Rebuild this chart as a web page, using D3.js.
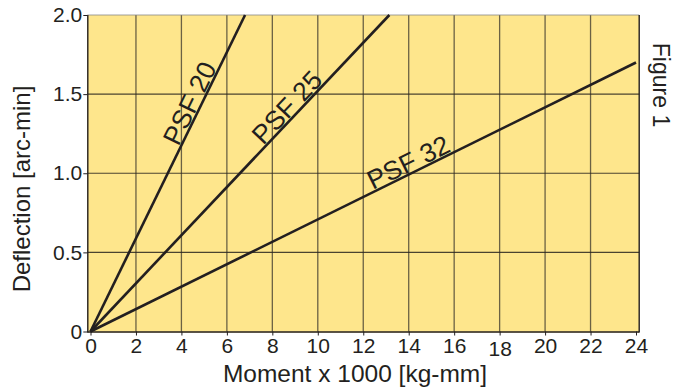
<!DOCTYPE html>
<html>
<head>
<meta charset="utf-8">
<script src="https://cdn.jsdelivr.net/npm/d3@7"></script>
<style>
  body { margin: 0; background: #fff; }
  text { font-family: "Liberation Sans", Arial, Helvetica, sans-serif; fill: #231f20; }
</style>
</head>
<body>
<svg id="drawing_region"></svg>
<script>
// chart values
const seriesNames = ["PSF 20", "PSF 25", "PSF 32"];
const seriesEnds = [[6.8, 2.0], [13.15, 2.0], [24, 1.70]];   // lines start at origin
const labelAtX = [4.8, 9.0, 14.2];                            // where label sits along line
const xTicks = [0, 2, 4, 6, 8, 10, 12, 14, 16, 18, 20, 22, 24];
const yTicks = [0, 0.5, 1.0, 1.5, 2.0];
const yTickLabels = ["0", "0.5", "1.0", "1.5", "2.0"];

const config = {
    width: 673,
    height: 387,
    margin: {top: 15, right: 37, bottom: 55, left: 90.5}
};

const svg = d3.select('#drawing_region')
    .attr('width', config.width)
    .attr('height', config.height);

const inner_width = 636 - config.margin.left;
const inner_height = 331.5 - config.margin.top;

const chart = svg.append('g')
    .attr('transform', `translate(${config.margin.left}, ${config.margin.top})`);

const xscale = d3.scaleLinear().domain([0, 24]).range([0, inner_width]);
const yscale = d3.scaleLinear().domain([0, 2]).range([inner_height, 0]);

// yellow panel, a little wider than the data range
chart.append('rect')
    .attr('x', -3.2)
    .attr('y', 0)
    .attr('width', inner_width + 6.4)
    .attr('height', inner_height + 1)
    .attr('fill', '#fee68c');

// grid
chart.append('g').selectAll('line')
    .data(xTicks.slice(1, -1))
    .join('line')
    .attr('x1', d => xscale(d)).attr('x2', d => xscale(d))
    .attr('y1', 0).attr('y2', inner_height)
    .attr('stroke', '#3a352c').attr('stroke-opacity', 0.75).attr('stroke-width', 1.3);

chart.append('g').selectAll('line')
    .data(yTicks.slice(1, -1))
    .join('line')
    .attr('x1', -3.2).attr('x2', inner_width + 3.2)
    .attr('y1', d => yscale(d)).attr('y2', d => yscale(d))
    .attr('stroke', '#2a2620').attr('stroke-opacity', 0.85).attr('stroke-width', 1.1);

// frame
chart.append('line').attr('x1', -3.2).attr('x2', inner_width + 3.2).attr('y1', 0).attr('y2', 0)
    .attr('stroke', '#888').attr('stroke-width', 0.8);
chart.append('line').attr('x1', inner_width + 3.2).attr('x2', inner_width + 3.2).attr('y1', 0).attr('y2', inner_height + 1)
    .attr('stroke', '#231f20').attr('stroke-width', 1.4);

// axes
const xaxis = d3.axisBottom(xscale).tickValues(xTicks).tickSize(4).tickFormat(d3.format('d'));
const yaxis = d3.axisLeft(yscale).tickValues(yTicks).tickSize(4).tickFormat((d, i) => yTickLabels[i]);

const xaxis_group = chart.append('g')
    .attr('transform', `translate(0, ${inner_height})`)
    .call(xaxis);
xaxis_group.select('.domain')
    .attr('d', `M${-3.2},0.5H${inner_width + 3.2}`)
    .attr('stroke', '#231f20').attr('stroke-width', 1.4);
xaxis_group.selectAll('.tick line').attr('stroke', '#231f20');
xaxis_group.selectAll('.tick text')
    .attr('font-size', 21)
    .attr('font-family', '"Liberation Sans", Arial, sans-serif')
    .attr('fill', '#231f20')
    .attr('y', d => d === 18 ? 10 : 7);

const yaxis_group = chart.append('g')
    .attr('transform', 'translate(-3.2, 0)')
    .call(yaxis);
yaxis_group.select('.domain')
    .attr('d', `M0.5,0V${inner_height + 1}`)
    .attr('stroke', '#231f20').attr('stroke-width', 1.4);
yaxis_group.selectAll('.tick line').attr('stroke', '#231f20');
yaxis_group.selectAll('.tick text')
    .attr('font-size', 21)
    .attr('font-family', '"Liberation Sans", Arial, sans-serif')
    .attr('fill', '#231f20')
    .attr('x', -5);

// series lines
const line = d3.line().x(d => xscale(d[0])).y(d => yscale(d[1]));
chart.append('g').selectAll('path')
    .data(seriesEnds)
    .join('path')
    .attr('d', d => line([[0, 0], d]))
    .attr('fill', 'none')
    .attr('stroke', '#231f20')
    .attr('stroke-width', 2.6);

// rotated series labels sitting on their lines
chart.append('g').selectAll('text')
    .data(seriesNames)
    .join('text')
    .attr('transform', (d, i) => {
        const e = seriesEnds[i];
        const lx = labelAtX[i];
        const ly = e[1] / e[0] * lx;
        const ang = Math.atan2(yscale(e[1]) - yscale(0), xscale(e[0]) - xscale(0)) * 180 / Math.PI;
        return `translate(${xscale(lx)}, ${yscale(ly)}) rotate(${ang}) translate(0, -2)`;
    })
    .attr('text-anchor', 'middle')
    .attr('font-size', 26.5)
    .text(d => d);

// axis titles
svg.append('text')
    .attr('x', 355)
    .attr('y', 382)
    .attr('text-anchor', 'middle')
    .attr('font-size', 24.5)
    .text('Moment x 1000 [kg-mm]');

svg.append('text')
    .attr('transform', 'translate(30, 189) rotate(-90)')
    .attr('text-anchor', 'middle')
    .attr('font-size', 24)
    .text('Deflection [arc-min]');

svg.append('text')
    .attr('transform', 'translate(653, 85) rotate(90)')
    .attr('text-anchor', 'middle')
    .attr('font-size', 23)
    .text('Figure 1');
</script>
</body>
</html>
